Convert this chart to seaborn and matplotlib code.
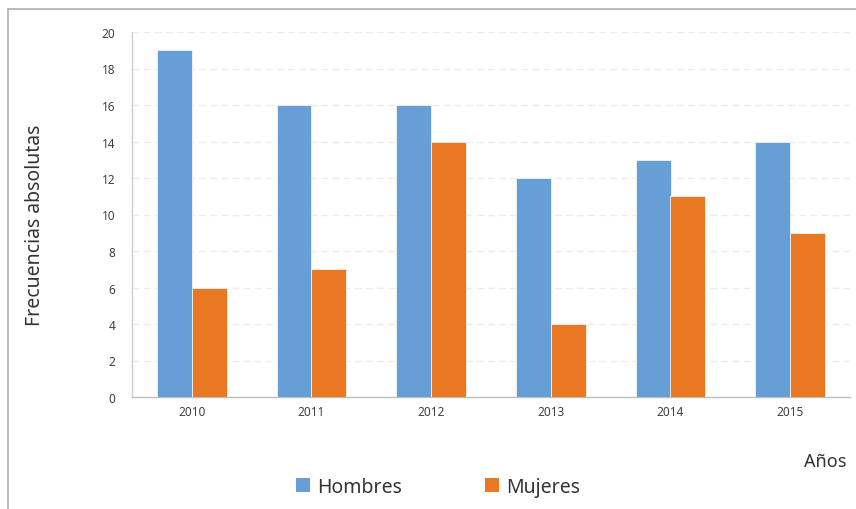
import matplotlib
matplotlib.use("Agg")
import matplotlib.pyplot as plt
from matplotlib.lines import Line2D
from matplotlib.patches import Patch
import seaborn as sns
import pandas as pd

years = ["2010", "2011", "2012", "2013", "2014", "2015"]
hombres = [19, 16, 16, 12, 13, 14]
mujeres = [6, 7, 14, 4, 11, 9]
series = ["Hombres", "Mujeres"]
colors = ["#659FD5", "#EA7722"]
yticks = [0, 2, 4, 6, 8, 10, 12, 14, 16, 18, 20]

df = pd.DataFrame({
    "Año": years * 2,
    "Sexo": [series[0]] * len(years) + [series[1]] * len(years),
    "Frecuencia": hombres + mujeres,
})

sns.set_style("white")
plt.rcParams["font.family"] = ["Noto Sans", "DejaVu Sans"]

fig = plt.figure(figsize=(8.56, 5.10), dpi=100)
ax = fig.add_axes([132 / 856, 112 / 510, 718 / 856, 365 / 510])

sns.barplot(data=df, x="Año", y="Frecuencia", hue="Sexo", palette=colors,
            saturation=1, width=0.58, gap=0, edgecolor="#f4f4f4", linewidth=0.6,
            legend=False, ax=ax, zorder=3)

ax.set_xlim(-0.5, len(years) - 0.5)
ax.set_ylim(0, 20)
ax.set_yticks(yticks)
ax.set_yticklabels([str(v) for v in yticks], fontsize=8.5, color="#404040")
ax.tick_params(axis="y", length=0, pad=12)

# category boundary ticks on the x axis
ax.set_xticks(range(len(years)))
ax.set_xticklabels(years, fontsize=8.5, color="#404040")
ax.tick_params(axis="x", which="major", length=0, pad=6)
ax.set_xticks([i - 0.5 for i in range(len(years) + 1)], minor=True)
ax.tick_params(axis="x", which="minor", length=7, width=1, color="#bfbfbf",
               direction="out")

for v in yticks[1:]:
    ax.axhline(v, color="#ececec", lw=1, ls=(0, (5, 3)), zorder=1)

for s in ["top", "right"]:
    ax.spines[s].set_visible(False)
ax.spines["left"].set_color("#d0d0d0")
ax.spines["bottom"].set_color("#bfbfbf")
ax.spines["left"].set_linewidth(1)
ax.spines["bottom"].set_linewidth(1)

ax.set_xlabel("")
ax.set_ylabel("")
fig.text(35 / 856, 1 - 225 / 510, "Frecuencias absolutas", rotation=90,
         ha="center", va="center", fontsize=14, color="#333333")
fig.text(846 / 856, 1 - 462 / 510, "Años", ha="right", va="center",
         fontsize=13, color="#333333")

handles = [Patch(facecolor=c, edgecolor="none") for c in colors]
fig.legend(handles, series, loc="center", bbox_to_anchor=(438 / 856, 1 - 488 / 510),
           ncol=2, frameon=False, fontsize=14, handlelength=0.7, handleheight=0.7,
           handletextpad=0.35, columnspacing=4.3, labelcolor="#333333")

# outer frame lines
fig.add_artist(Line2D([8 / 856, 1], [1 - 10 / 510, 1 - 10 / 510],
                      transform=fig.transFigure, color="#b0b0b0", lw=1.2))
fig.add_artist(Line2D([8 / 856, 8 / 856], [0, 1 - 10 / 510],
                      transform=fig.transFigure, color="#b0b0b0", lw=1.2))

fig.savefig("out.png", dpi=100)
